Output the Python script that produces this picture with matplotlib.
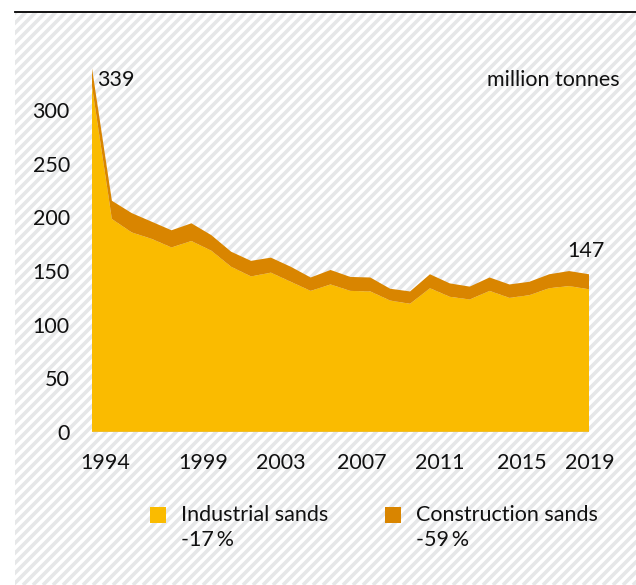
import matplotlib
matplotlib.use("Agg")
import matplotlib.pyplot as plt
from matplotlib.lines import Line2D
from matplotlib.patches import Rectangle
import matplotlib.transforms as mtransforms
import numpy as np

plt.rcParams['font.family'] = ['Lato', 'DejaVu Sans']

# ---- data ----
years = list(range(1994, 2020))
industrial = [322, 198.5, 186, 180, 172, 178, 169, 154, 145, 148.5, 140, 131.5, 137.5,
              131.5, 131, 122.5, 119.5, 134, 126, 123.5, 131.5, 125, 127.5, 134, 136, 133]
construction = [17, 17, 18, 16, 16, 16.5, 14.5, 14, 14.5, 14, 14, 12.5, 13.5,
                13, 13, 11, 11.5, 13, 12.5, 12, 12.5, 12.5, 12.5, 13, 14, 14]
tick_years = [1994, 1999, 2003, 2007, 2011, 2015, 2019]
tick_labels = ["1994", "1999", "2003", "2007", "2011", "2015", "2019"]
y_ticks = [0, 50, 100, 150, 200, 250, 300]
series_names = ["Industrial sands", "Construction sands"]
series_changes = ["-17\u2009%", "-59\u2009%"]
first_total = 339
last_total = 147

YELLOW = "#FABB00"
ORANGE = "#D98500"
STRIPE = "#E6E7E8"
TXT = "#111111"
FS = 15.5

W, H = 636, 585
fig = plt.figure(figsize=(W / 100, H / 100), dpi=100)
fig.patch.set_facecolor("white")

# ---- striped background ----
bx0, by1 = 15, 13
bg = fig.add_axes([bx0 / W, 0, (W - bx0) / W, (H - by1) / H], zorder=0)
bw, bh = W - bx0, H - by1
bg.set_xlim(0, bw)
bg.set_ylim(0, bh)
bg.axis("off")
bg.add_patch(Rectangle((0, 0), bw, bh, facecolor="white", edgecolor="none"))
for c in np.arange(-bh, bw + 10, 10):
    bg.plot([c, c + bh + 20], [0, bh + 20], color=STRIPE, lw=2.6, solid_capstyle="butt")

fig.add_artist(Line2D([bx0 / W, 1], [1 - 12 / H, 1 - 12 / H], color="black", lw=1.3))

# ---- main axes ----
ax_left, ax_right = 92, 589
y0_px = 432
px_per_unit = 1.073
ymax = 340
ax = fig.add_axes([ax_left / W, (H - y0_px) / H, (ax_right - ax_left) / W,
                   ymax * px_per_unit / H], zorder=2)
ax.patch.set_alpha(0)
ax.stackplot(years, industrial, construction, colors=[YELLOW, ORANGE], lw=0)
ax.plot([years[0], years[-1]], [0, 0], color="#cfcfcf", lw=1.0)
ax.set_xlim(years[0], years[-1])
ax.set_ylim(0, ymax)
for s in ax.spines.values():
    s.set_visible(False)

ax.set_yticks(y_ticks)
ax.set_yticklabels([str(v) for v in y_ticks])
ax.tick_params(axis="y", length=0, pad=16, labelsize=FS, labelcolor=TXT)
ax.set_xticks(tick_years)
ax.set_xticklabels(tick_labels)
ax.tick_params(axis="x", length=0, pad=15, labelsize=FS, labelcolor=TXT)
offsets = [13, 12, 10, 11, 10, 12, 1]
for lbl, dx in zip(ax.get_xticklabels(), offsets):
    lbl.set_transform(lbl.get_transform() + mtransforms.ScaledTranslation(dx / 100, 0, fig.dpi_scale_trans))

ax.annotate(str(first_total), xy=(years[0], first_total), xytext=(3.8, -8.5),
            textcoords="offset points", ha="left", va="center", fontsize=FS,
            color=TXT, annotation_clip=False)
ax.annotate(str(last_total), xy=(years[-1], last_total), xytext=(-2, 16.5),
            textcoords="offset points", ha="center", va="center", fontsize=FS,
            color=TXT, annotation_clip=False)

fig.text(620 / W, 1 - 80 / H, "million tonnes", ha="right", va="center",
         fontsize=FS, color=TXT, zorder=3)

# ---- legend ----
leg_items = [(150, series_names[0], series_changes[0], YELLOW),
             (385, series_names[1], series_changes[1], ORANGE)]
for x, name, chg, col in leg_items:
    fig.add_artist(Rectangle((x / W, 1 - 523 / H), 16 / W, 16 / H,
                             transform=fig.transFigure, facecolor=col, edgecolor="none", zorder=3))
    fig.text((x + 31) / W, 1 - 515 / H, name, ha="left", va="center",
             fontsize=FS, color=TXT, zorder=3)
    fig.text((x + 31) / W, 1 - 540 / H, chg, ha="left", va="center",
             fontsize=FS, color=TXT, zorder=3)

fig.savefig("out.png", dpi=100)
